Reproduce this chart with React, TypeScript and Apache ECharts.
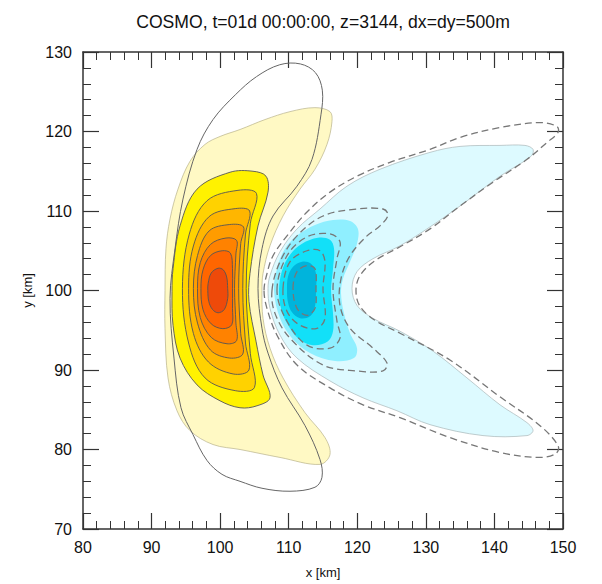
import React, { useEffect, useRef } from "react";
import * as echarts from "echarts";

const TITLE = "COSMO, t=01d 00:00:00, z=3144, dx=dy=500m";
const X_RANGE = [80, 150];
const Y_RANGE = [70, 130];
const TICK_STEP = 10;

// Contour outlines, in km
const PALE_YELLOW = [[91.96,100],[92.1,105.25],[92.69,109],[93.85,112.75],[95.6,116.25],[97.79,118.375],[99.98,119.375],[102.9,120.25],[106.54,121.5],[110.19,122.5],[113.83,123.0],[116.02,122.5],[116.31,121.25],[115.58,118.375],[113.83,115.25],[111.65,112.75],[109.17,109.375],[107.27,105.625],[106.25,102.125],[106.1,100],[106.25,96.5],[107.27,92.75],[109.17,89.0],[112.38,84.625],[115.29,81.5],[116.02,79.375],[114.56,78.125],[108.73,79.0],[102.9,80.0],[98.96,80.625],[95.6,82.375],[93.71,84.875],[92.4,89.0],[91.96,95.25]];
const YELLOW = [[101.44,114.875],[96.63,112.75],[94.15,108.125],[93.13,102.75],[92.98,99.875],[93.13,95.625],[94.15,91.5],[96.63,88.125],[99.98,86.125],[102.9,85.25],[105.38,85.5],[107.27,86.5],[106.25,89.375],[105.23,93.625],[104.21,98.625],[104.35,102.125],[105.52,108.125],[106.98,112.375],[106.69,114.375],[104.79,115.0]];
const POS_3 = [[102.6,112.6],[98.1,111.3],[95.5,107.1],[94.5,100.25],[95.4,93.4],[97.8,89.0],[102.2,87.4],[105.0,87.8],[104.4,92.1],[103.8,100.25],[104.4,108.4],[105.3,112.2]];
const POS_4 = [[102.2,110.3],[98.4,109.3],[96.1,105.6],[95.4,100.25],[96.1,94.6],[98.3,91.0],[101.9,89.5],[104.2,90.0],[103.7,93.4],[103.3,100.25],[103.7,107.1],[104.3,110.0]];
const POS_5 = [[101.4,108.3],[98.4,107.5],[96.7,104.4],[96.1,100.25],[96.7,95.9],[98.6,92.5],[101.4,91.5],[103.3,92.0],[103.0,94.6],[102.7,100.25],[103.0,105.9],[103.4,108.0]];
const POS_6 = [[100.85,106.6],[98.6,105.8],[97.1,103.5],[96.7,100.25],[97.1,96.6],[98.7,94.1],[101.0,93.3],[102.4,93.7],[102.3,95.9],[102.1,100.25],[102.3,104.6],[102.4,106.3]];
const POS_7 = [[100.3,105.0],[98.6,104.4],[97.5,102.6],[97.2,100.25],[97.5,97.6],[98.7,95.8],[100.4,95.2],[101.7,95.7],[101.8,97.75],[101.8,100.25],[101.8,102.75],[101.5,104.7]];
const POS_8 = [[99.7,102.8],[98.7,102.2],[98.25,100.9],[98.2,100],[98.35,98.6],[98.9,97.6],[99.7,97.2],[100.6,97.6],[101.1,99.0],[101.1,100.25],[100.95,101.7],[100.45,102.6]];

const LIGHT_CYAN = [[106.98,100.25],[107.27,101.875],[108.73,104.875],[111.21,107.75],[114.56,110.25],[118.5,113.125],[123.31,115.25],[130.61,117.375],[134.98,118.125],[140.81,118.25],[144.46,118.25],[145.63,117.75],[145.33,116.875],[140.81,114.375],[134.98,110.625],[130.61,108.0],[126.23,105.625],[122.29,104.0],[119.96,102.375],[119.23,100.25],[119.96,98.125],[122.29,96.5],[126.23,94.875],[131.04,92.375],[136.0,89.0],[140.81,85.625],[144.75,83.375],[145.63,82.375],[144.75,81.75],[138.33,81.75],[130.61,83.125],[125.79,84.875],[120.83,86.5],[116.02,88.625],[111.21,91.5],[108.73,94.375],[107.27,97.75]];
const MED_CYAN = [[107.85,100],[108.29,102.75],[109.46,105.25],[111.35,107.0],[113.83,108.25],[116.46,108.875],[118.94,108.75],[120.1,107.75],[119.96,105.875],[118.94,103.625],[117.92,101.5],[117.63,99.625],[118.06,97.125],[118.94,94.625],[119.96,92.75],[119.52,91.5],[116.75,91.125],[113.1,92.125],[110.48,94.0],[108.73,96.5]];
const BRIGHT_CYAN = [[108.58,100],[109.02,102.5],[110.19,104.5],[111.94,105.875],[114.27,106.625],[116.02,106.375],[116.61,105.25],[116.46,102.75],[116.17,100],[116.46,97.125],[116.46,94.875],[115.73,93.625],[113.54,93.125],[111.35,94.0],[109.75,95.875],[108.88,97.75]];
const DARK_CYAN = [[109.75,100],[109.9,101.75],[110.63,103.0],[111.94,103.625],[113.25,103.375],[113.98,102.125],[113.98,100],[113.83,98.0],[113.1,96.75],[111.65,96.5],[110.48,97.25],[109.9,98.5]];

const OUTER_LOOP = [[92.69,99.0],[93.42,105.25],[94.58,111.5],[96.63,117.75],[98.96,121.5],[102.2,124.6],[105.3,126.9],[108.7,128.4],[111.7,128.5],[113.9,127.4],[114.9,125.2],[114.7,122.1],[113.4,116.5],[111.21,113.125],[107.71,109.375],[106.1,105.25],[105.52,100.25],[106.1,95.25],[106.98,92.125],[109.02,87.75],[112.38,83.0],[114.56,78.75],[114.85,76.5],[113.83,75.25],[110.19,74.75],[106.1,75.125],[102.9,76.0],[100.27,76.875],[98.08,78.625],[96.04,81.875],[94.29,85.25],[93.27,91.5]];
const NEG_1 = [[106.4,100],[106.83,102.125],[107.71,104.375],[109.75,106.875],[112.67,109.875],[116.02,112.375],[119.96,114.375],[124.77,116.125],[130.61,117.75],[134.98,119.25],[140.81,120.5],[146.65,121.125],[149.13,120.625],[149.27,119.875],[147.67,118.625],[144.75,116.5],[139.79,113.625],[134.98,110.625],[130.61,107.75],[126.23,105.5],[122.58,103.75],[120.4,101.875],[119.81,100],[120.4,98.0],[122.58,96.25],[126.23,94.625],[133.52,91.25],[140.81,86.625],[146.65,83.0],[149.27,80.5],[148.98,79.5],[146.65,79.0],[140.81,79.625],[133.52,81.5],[126.23,84.0],[120.83,85.625],[116.02,87.75],[111.21,90.625],[108.29,94.375],[106.83,97.75]];
const NEG_2 = [[107.56,100],[108.73,103.625],[111.21,106.875],[115.0,109.375],[119.96,110.25],[123.75,110.25],[124.48,109.5],[123.31,108.125],[121.42,106.875],[118.94,104.375],[117.63,101.5],[117.48,98.125],[118.94,95.25],[122.29,92.75],[124.33,90.875],[123.75,89.875],[119.96,89.875],[115.0,90.625],[110.19,94.0],[108.0,97.125]];
const NEG_3 = [[108.29,100],[109.75,104.375],[112.67,106.75],[116.02,107.125],[117.48,106.125],[117.04,104.0],[116.46,100.25],[117.04,96.125],[117.48,94.0],[116.02,92.75],[112.67,93.125],[109.75,96.125]];
const NEG_4 = [[109.17,100.25],[110.19,103.625],[112.67,105.0],[114.56,105.0],[115.29,103.625],[115.0,100.25],[115.29,96.5],[114.13,95.25],[111.65,95.625],[109.75,97.375]];
const NEG_5 = [[110.63,100.25],[111.21,102.375],[112.67,103.125],[113.83,102.75],[113.98,100.25],[113.83,97.75],[112.67,96.875],[111.21,97.75]];

type Shape = { pts: number[][]; fill?: string; stroke?: string; lw?: number; dash?: number[] };

const SHAPES: Shape[] = [
  { pts: PALE_YELLOW, fill: "#FFF9C4", stroke: "#b8b28a", lw: 0.7 },
  { pts: LIGHT_CYAN, fill: "#DDFAFF", stroke: "#a9b6b8", lw: 0.7 },
  { pts: YELLOW, fill: "#FFF200", stroke: "#555", lw: 0.9 },
  { pts: POS_3, fill: "#FFD200", stroke: "#555", lw: 0.9 },
  { pts: POS_4, fill: "#FFB600", stroke: "#555", lw: 0.9 },
  { pts: POS_5, fill: "#FF9C00", stroke: "#555", lw: 0.9 },
  { pts: POS_6, fill: "#FF8200", stroke: "#555", lw: 0.9 },
  { pts: POS_7, fill: "#FF6600", stroke: "#555", lw: 0.9 },
  { pts: POS_8, fill: "#EE4A0A", stroke: "#555", lw: 0.9 },
  { pts: MED_CYAN, fill: "#8FEFFF" },
  { pts: BRIGHT_CYAN, fill: "#12E0F8" },
  { pts: DARK_CYAN, fill: "#00B4DC" },
  { pts: OUTER_LOOP, stroke: "#666", lw: 1 },
  { pts: NEG_1, stroke: "#777", lw: 1.3, dash: [7, 4] },
  { pts: NEG_2, stroke: "#777", lw: 1.3, dash: [7, 4] },
  { pts: NEG_3, stroke: "#777", lw: 1.3, dash: [7, 4] },
  { pts: NEG_4, stroke: "#777", lw: 1.3, dash: [7, 4] },
  { pts: NEG_5, stroke: "#777", lw: 1.3, dash: [7, 4] },
];

const FONT = "'Liberation Sans', Arial, Helvetica, sans-serif";
const AXIS_COLOR = "#333";

function makeAxis(kind: "x" | "y", position: string, main: boolean) {
  const range = kind === "x" ? X_RANGE : Y_RANGE;
  return {
    type: "value",
    position,
    min: range[0],
    max: range[1],
    interval: TICK_STEP,
    axisLine: { show: true, onZero: false, lineStyle: { color: AXIS_COLOR, width: 1.5 } },
    axisTick: { show: true, inside: true, length: 16, lineStyle: { color: AXIS_COLOR, width: 1.2 } },
    minorTick: { show: true, splitNumber: 5, length: 8, lineStyle: { color: AXIS_COLOR, width: 1 } },
    splitLine: { show: false },
    axisLabel: main
      ? { show: true, fontSize: 16, color: "#111", fontFamily: FONT, margin: kind === "x" ? 10 : 11 }
      : { show: false },
    name: main ? (kind === "x" ? "x [km]" : "y [km]") : "",
    nameLocation: "middle",
    nameGap: kind === "x" ? 37 : 44,
    nameTextStyle: { fontSize: 13, color: "#111", fontFamily: FONT },
  };
}

export default function App() {
  const ref = useRef<HTMLDivElement>(null);
  useEffect(() => {
    document.body.style.margin = "0";
    const chart = echarts.init(ref.current!, null, { renderer: "svg" });
    chart.setOption({
      animation: false,
      backgroundColor: "#fff",
      grid: { left: 83, right: 39, top: 52, bottom: 52 },
      xAxis: [makeAxis("x", "bottom", true), makeAxis("x", "top", false)],
      yAxis: [makeAxis("y", "left", true), makeAxis("y", "right", false)],
      graphic: [
        {
          type: "text",
          x: 323,
          y: 22,
          style: { text: TITLE, fontSize: 17.6, fill: "#111", align: "center", verticalAlign: "middle", fontFamily: FONT },
        },
      ],
      series: [
        {
          type: "custom",
          coordinateSystem: "cartesian2d",
          xAxisIndex: 0,
          yAxisIndex: 0,
          clip: true,
          data: SHAPES.map((s, i) => ({ value: [s.pts[0][0], s.pts[0][1], i] })),
          renderItem: (params: any, api: any) => {
            const s = SHAPES[params.dataIndex];
            const points = s.pts.map((p) => api.coord(p));
            return {
              type: "polygon",
              shape: { points, smooth: 0.35 },
              style: {
                fill: s.fill || "none",
                stroke: s.stroke || "none",
                lineWidth: s.lw || 0,
                lineDash: s.dash || null,
              },
            };
          },
        },
      ],
    });
    return () => chart.dispose();
  }, []);
  return <div ref={ref} style={{ width: 602, height: 584 }} />;
}
